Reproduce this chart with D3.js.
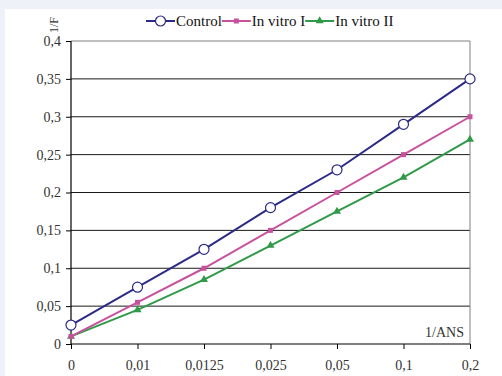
<!DOCTYPE html>
<html>
<head>
<meta charset="utf-8">
<script src="https://cdn.jsdelivr.net/npm/d3@7"></script>
<style>
  body { margin: 0; background: #eef2f8; }
  svg { display: block; }
</style>
</head>
<body>
<svg width="502" height="376"></svg>
<script>
var categories = ['0', '0,01', '0,0125', '0,025', '0,05', '0,1', '0,2'];
var control = [0.025, 0.075, 0.125, 0.18, 0.23, 0.29, 0.35];
var inVitroI = [0.01, 0.055, 0.1, 0.15, 0.2, 0.25, 0.30];
var inVitroII = [0.01, 0.045, 0.085, 0.13, 0.175, 0.22, 0.27];
var yTicks = [0, 0.05, 0.1, 0.15, 0.2, 0.25, 0.3, 0.35, 0.4];

var svg = d3.select('svg');
var font = '"Liberation Serif", "Times New Roman", serif';

var plotLeft = 71, plotRight = 470, plotTop = 41, plotBottom = 344;

var x = d3.scalePoint().domain(categories).range([plotLeft, plotRight]).padding(0);
var y = d3.scaleLinear().domain([0, 0.4]).range([plotBottom, plotTop]);

var fmt = function(d) { return String(d).replace('.', ','); };

// white panel
svg.append('rect')
  .attr('x', 5).attr('y', 9)
  .attr('width', 497).attr('height', 367)
  .attr('fill', '#fff');

// grid lines
svg.append('g')
  .selectAll('line')
  .data(yTicks.filter(function(d) { return d > 0 && d < 0.4; }))
  .enter().append('line')
  .attr('x1', plotLeft).attr('x2', plotRight)
  .attr('y1', function(d) { return y(d); })
  .attr('y2', function(d) { return y(d); })
  .attr('stroke', '#1a1a1a')
  .attr('stroke-width', 1);

// frame top & right
svg.append('path')
  .attr('d', 'M' + plotLeft + ',' + y(0.4) + 'H' + plotRight + 'V' + plotBottom)
  .attr('fill', 'none')
  .attr('stroke', '#808080')
  .attr('stroke-width', 1);

// axes
var yAxis = svg.append('g')
  .attr('transform', 'translate(' + plotLeft + ',0)')
  .call(d3.axisLeft(y).tickValues(yTicks).tickFormat(fmt).tickSize(5).tickPadding(5));

var xAxis = svg.append('g')
  .attr('transform', 'translate(0,' + plotBottom + ')')
  .call(d3.axisBottom(x).tickSize(5).tickPadding(11));

[yAxis, xAxis].forEach(function(a) {
  a.select('.domain').attr('stroke', '#000').attr('stroke-width', 1.2);
  a.selectAll('.tick line').attr('stroke', '#000');
  a.selectAll('text')
    .attr('font-family', font)
    .attr('font-size', 14)
    .attr('fill', '#333');
});
yAxis.select('.domain').attr('d', 'M0,' + plotTop + 'V' + plotBottom);
xAxis.select('.domain').attr('d', 'M' + plotLeft + ',0H' + plotRight);

// series
var series = [
  { name: 'Control', values: control, color: '#2b2a87', marker: 'circle' },
  { name: 'In vitro I', values: inVitroI, color: '#c8519e', marker: 'square' },
  { name: 'In vitro II', values: inVitroII, color: '#2f9a48', marker: 'triangle' }
];

var line = d3.line()
  .x(function(d, i) { return x(categories[i]); })
  .y(function(d) { return y(d); });

function drawMarker(g, s, cx, cy) {
  if (s.marker === 'circle') {
    g.append('circle')
      .attr('cx', cx).attr('cy', cy).attr('r', 5)
      .attr('fill', '#fff').attr('stroke', s.color).attr('stroke-width', 1.2);
  } else if (s.marker === 'square') {
    g.append('rect')
      .attr('x', cx - 2.5).attr('y', cy - 2.5)
      .attr('width', 5).attr('height', 5)
      .attr('fill', s.color);
  } else {
    g.append('path')
      .attr('d', d3.symbol().type(d3.symbolTriangle).size(28)())
      .attr('transform', 'translate(' + cx + ',' + cy + ')')
      .attr('fill', s.color);
  }
}

series.slice().reverse().forEach(function(s) {
  var g = svg.append('g');
  g.append('path')
    .attr('d', line(s.values))
    .attr('fill', 'none')
    .attr('stroke', s.color)
    .attr('stroke-width', 2);
  s.values.forEach(function(v, i) {
    drawMarker(g, s, x(categories[i]), y(v));
  });
});

// axis titles
svg.append('text')
  .attr('transform', 'translate(58,25) rotate(-90)')
  .attr('text-anchor', 'middle')
  .attr('font-family', font)
  .attr('font-size', 12)
  .attr('fill', '#333')
  .text('1/F');

svg.append('text')
  .attr('x', 464).attr('y', 337)
  .attr('text-anchor', 'end')
  .attr('font-family', font)
  .attr('font-size', 14)
  .attr('fill', '#333')
  .text('1/ANS');

// legend
var legend = svg.append('g').attr('transform', 'translate(146,21)');
var lx = 0;
series.forEach(function(s) {
  var g = legend.append('g').attr('transform', 'translate(' + lx + ',0)');
  g.append('line')
    .attr('x1', 0).attr('x2', 29)
    .attr('stroke', s.color).attr('stroke-width', 2);
  drawMarker(g, s, 14.5, 0);
  var t = g.append('text')
    .attr('x', 30).attr('y', 5)
    .attr('font-family', font)
    .attr('font-size', 15)
    .attr('fill', '#111')
    .text(s.name);
  lx += 30 + t.node().getComputedTextLength();
});
</script>
</body>
</html>
